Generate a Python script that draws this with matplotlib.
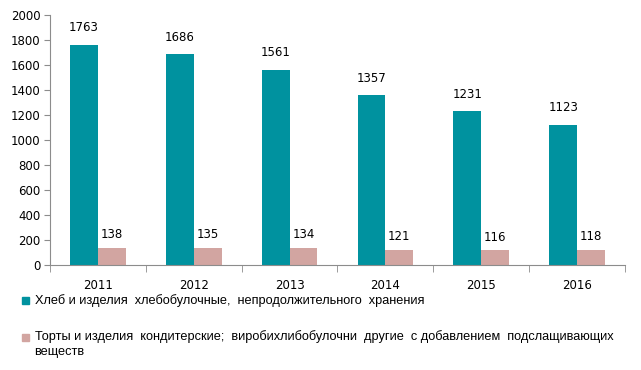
import numpy as np
import matplotlib.pyplot as plt
from matplotlib.patches import Rectangle

years = ['2011', '2012', '2013', '2014', '2015', '2016']
bread = [1763, 1686, 1561, 1357, 1231, 1123]
cakes = [138, 135, 134, 121, 116, 118]

bread_label = 'Хлеб и изделия  хлебобулочные,  непродолжительного  хранения'
cakes_label = ('Торты и изделия  кондитерские;  виробихлибобулочни  другие  с добавлением  подслащивающих\n'
               'веществ')

teal = '#00929F'
pink = '#D2A5A1'
grey = '#8C8C8C'

fig = plt.figure(figsize=(6.41, 3.70), dpi=100)
ax = fig.add_axes([0.078, 0.284, 0.897, 0.675])

x = np.arange(len(years))
w = 0.29
b1 = ax.bar(x - w / 2, bread, w, color=teal, edgecolor='none')
b2 = ax.bar(x + w / 2, cakes, w, color=pink, edgecolor='none')

for rect, v in zip(b1, bread):
    ax.text(rect.get_x() + rect.get_width() / 2, v + 85, str(v),
            ha='center', va='bottom', fontsize=8.5, color='black')
for rect, v in zip(b2, cakes):
    ax.text(rect.get_x() + rect.get_width() / 2, v + 55, str(v),
            ha='center', va='bottom', fontsize=8.5, color='black')

ax.set_xlim(-0.5, len(years) - 0.5)
ax.set_ylim(0, 2000)
ax.set_yticks(range(0, 2001, 200))
ax.tick_params(axis='y', labelsize=8.5, length=4, color=grey, pad=3)

# category labels between boundary ticks
ax.set_xticks(x)
ax.set_xticklabels(years, fontsize=8.5)
ax.tick_params(axis='x', length=0, pad=10)
ax.set_xticks(np.arange(-0.5, len(years)), minor=True)
ax.tick_params(axis='x', which='minor', length=5, color=grey)

for side in ['top', 'right']:
    ax.spines[side].set_visible(False)
for side in ['left', 'bottom']:
    ax.spines[side].set_color(grey)

# legend drawn manually below the chart
fig.patches.append(Rectangle((0.035, 0.178), 0.011, 0.019, transform=fig.transFigure,
                             color=teal, figure=fig))
fig.text(0.054, 0.187, bread_label, fontsize=9.2, family='Liberation Sans',
         va='center', ha='left')
fig.patches.append(Rectangle((0.035, 0.078), 0.011, 0.019, transform=fig.transFigure,
                             color=pink, figure=fig))
fig.text(0.054, 0.107, cakes_label, fontsize=9.2, family='Liberation Sans',
         va='top', ha='left', linespacing=1.25)

fig.savefig('out.png', dpi=100)
